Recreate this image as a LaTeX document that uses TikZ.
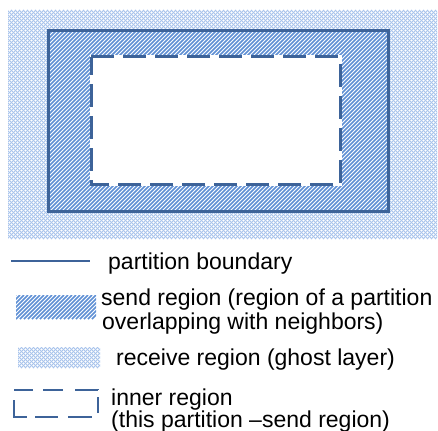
\documentclass[tikz,border=0pt]{standalone}
\usepackage{fontspec}
\setmainfont{Liberation Sans}
\definecolor{bnd}{HTML}{3D6399}
\definecolor{hatchc}{HTML}{5E8FD4}
\definecolor{ghostc}{HTML}{A9C4EC}
\tikzset{
  hatchline/.style={draw=hatchc,line width=1.7pt},
  ghostline/.style={draw=ghostc,line width=0.9pt},
  boundline/.style={draw=bnd,line width=3pt},
  innerline/.style={draw=bnd,line width=3pt,dash pattern=on 23pt off 9pt},
  innerhalo/.style={draw=white,line width=3pt},
  legtext/.style={font=\fontsize{23}{24}\selectfont,anchor=base west,inner sep=0pt},
}
% #1,#2 = x0,y0 (top-left); #3,#4 = x1,y1 (bottom-right)
\newcommand{\myhatch}[4]{%
  \begin{scope}
    \clip (#1,#2) rectangle (#3,#4);
    \pgfmathsetmacro{\hh}{#4-#2}
    \foreach \k in {0,...,200}{
      \pgfmathsetmacro{\xx}{#1-\hh+4*\k}
      \ifdim\xx pt<#3pt
      \draw[hatchline] (\xx,#4) -- (\xx+\hh,#2);
      \fi
    }
  \end{scope}}
\newcommand{\myghost}[4]{%
  \begin{scope}
    \clip (#1,#2) rectangle (#3,#4);
    \pgfmathsetmacro{\hh}{#4-#2}
    \foreach \k in {0,...,200}{
      \pgfmathsetmacro{\xx}{#1-\hh+4*\k}
      \ifdim\xx pt<#3pt
      \draw[ghostline] (\xx,#4) -- (\xx+\hh,#2);
      \draw[ghostline] (\xx,#2) -- (\xx+\hh,#4);
      \fi
    }
  \end{scope}}
\begin{document}
\begin{tikzpicture}[x=1pt,y=-1pt]
\useasboundingbox (0,0) rectangle (438,430);
% receive region
\myghost{8}{10}{437}{239}
% send region (partition)
\fill[white] (48,31) rectangle (388,211);
\myhatch{48}{31}{388}{211}
\draw[boundline] (48,31) rectangle (388,211);
% inner region
\fill[white] (91,57) rectangle (340,185);
\draw[innerhalo] (91,57) rectangle (340,185);
\draw[innerline] (91,57) -- (340,57) -- (340,185) -- (91,185) -- cycle;
% legend
\coordinate (l1a) at (11,261);
\coordinate (l1b) at (90,261);
\draw[draw=bnd,line width=2.5pt] (l1a) -- (l1b);
\node[legtext] (t1) at (108,269) {partition boundary};
\myhatch{16}{295}{96}{319}
\node[legtext] (t2a) at (101,305) {send region (region of a partition};
\node[legtext] (t2b) at (102,329) {overlapping with neighbors)};
\myghost{18}{347}{100}{368}
\node[legtext] (t3) at (116,365) {receive region (ghost layer)};
\draw[draw=bnd,line width=2.5pt,dash pattern=on 30pt off 8pt on 23pt off 10pt on 24pt off 10pt on 16pt off 7pt on 23pt off 12pt on 20pt off 10pt on 19pt off 50pt]
  (14,400) -- (14,417) -- (98,417) -- (98,390) -- (14,390);
\node[legtext] (t4a) at (111,405) {inner region};
\node[legtext] (t4b) at (111,427) {(this partition \textendash send region)};
\end{tikzpicture}
\end{document}
